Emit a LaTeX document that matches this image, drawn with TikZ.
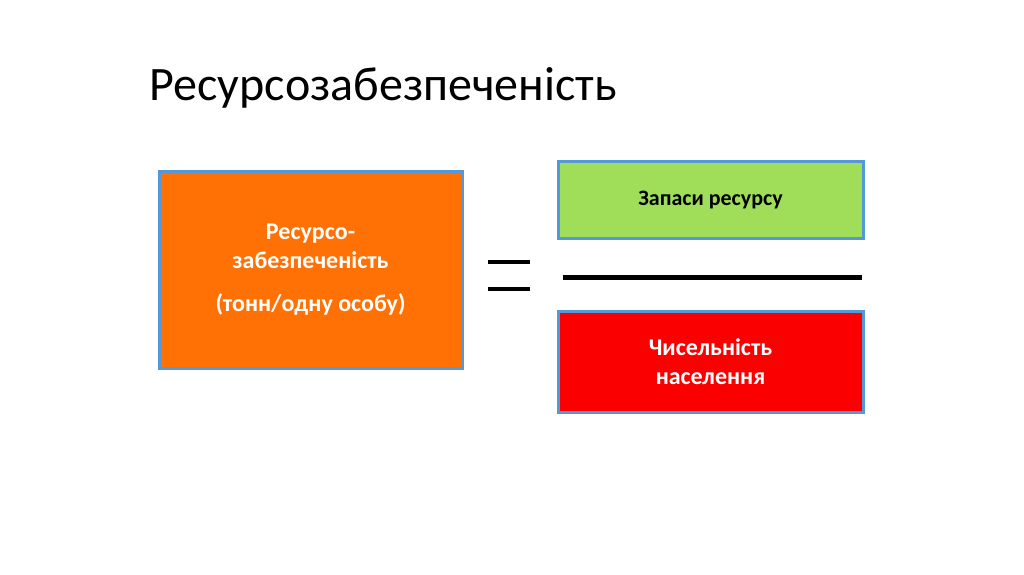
\documentclass[tikz,border=0pt]{standalone}
\usepackage{fontspec}
\setmainfont{Carlito}
\begin{document}
\begin{tikzpicture}[x=1pt,y=-1pt,
  box/.style={draw=cyan!60!blue!70, line width=3pt, inner sep=0pt, font=\bfseries\fontsize{24}{29}\selectfont, align=center, text=white},
  bar/.style={line width=4pt}]
\useasboundingbox[fill=white] (0,0) rectangle (1024,574);
\node[anchor=base west, font=\fontsize{48}{56}\selectfont] (title) at (146,100) {Ресурсозабезпеченість};
\node[box, fill={rgb,255:red,255;green,113;blue,4}, minimum width=303, minimum height=197] (res) at (310.5,270) {Ресурсо-\\забезпеченість\\[14pt](тонн/одну особу)};
\node[box, fill={rgb,255:red,160;green,222;blue,90}, text=black, minimum width=305, minimum height=77, font=\bfseries\fontsize{22}{26}\selectfont] (zap) at (710.5,200) {Запаси ресурсу};
\node[box, fill={rgb,255:red,250;green,0;blue,0}, minimum width=305, minimum height=101] (chys) at (710.5,362) {Чисельність\\населення};
\coordinate (e1a) at (488,262); \coordinate (e1b) at (530,262);
\coordinate (e2a) at (488,289); \coordinate (e2b) at (530,289);
\draw[bar] (e1a) -- (e1b); \draw[bar] (e2a) -- (e2b);
\coordinate (fa) at (563,277); \coordinate (fb) at (862,277);
\draw[line width=5pt] (fa) -- (fb);
\end{tikzpicture}
\end{document}
